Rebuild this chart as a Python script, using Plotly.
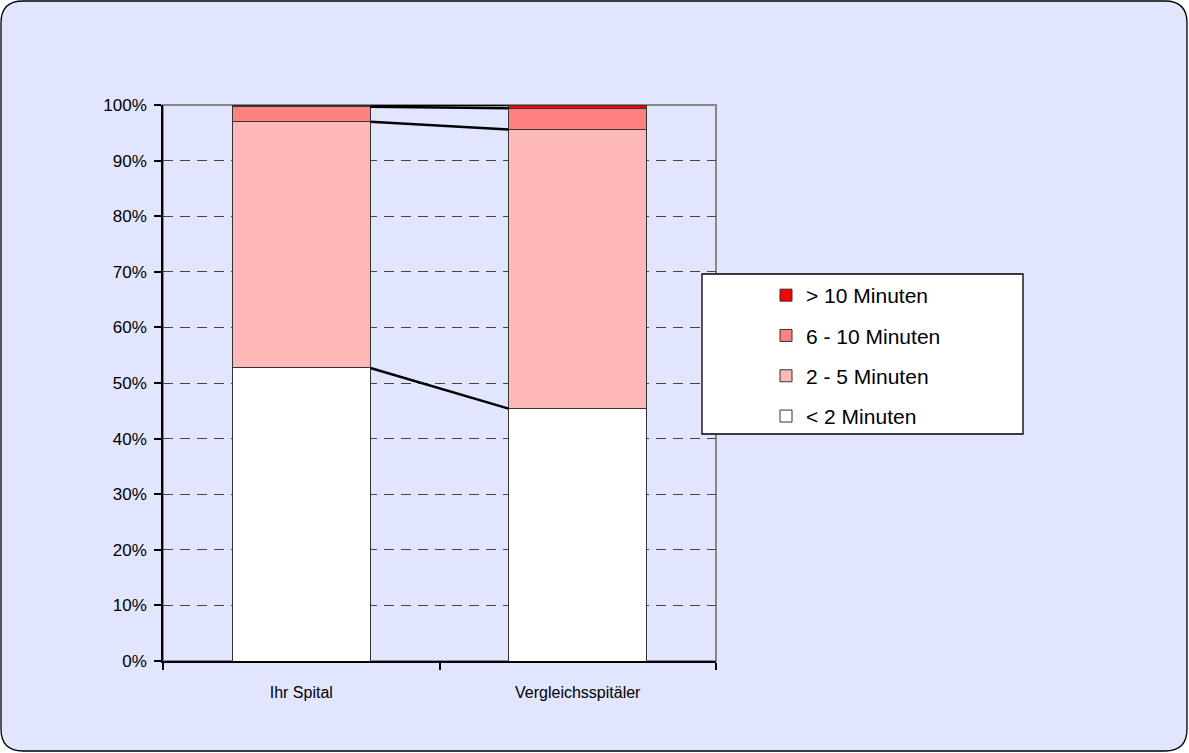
import plotly.graph_objects as go

categories = ["Ihr Spital", "Vergleichsspitäler"]
series_names = ["< 2 Minuten", "2 - 5 Minuten", "6 - 10 Minuten", "> 10 Minuten"]
lt2 = [52.7, 45.4]
m2_5 = [44.3, 50.2]
m6_10 = [2.7, 3.8]
gt10 = [0.3, 0.6]
colors = ["#FFFFFF", "#FFB8B8", "#FF8080", "#FF0000"]
y_ticks = [0, 10, 20, 30, 40, 50, 60, 70, 80, 90, 100]

W, H = 1189, 753
L, R, T, B = 163, 716, 105, 661
BG = "#E1E6FE"

def px2x(px):
    return (px - L) / (R - L)

def px2y(py):
    return (B - py) / (B - T)

series = [lt2, m2_5, m6_10, gt10]
xpos = list(range(len(categories)))
bar_w = 0.5

fig = go.Figure()
n = len(series)
for k, (name, vals, col) in enumerate(zip(series_names, series, colors)):
    fig.add_trace(go.Bar(
        x=xpos, y=[v / 100 for v in vals], name=name, width=bar_w,
        marker=dict(color=col, line=dict(color="#333333", width=1)),
        legendgroup=name, legendrank=n - k,
    ))

# connector lines between tops of each segment
cum = [0.0] * len(categories)
for vals in series:
    cum = [c + v for c, v in zip(cum, vals)]
    for i in range(len(categories) - 1):
        fig.add_trace(go.Scatter(
            x=[xpos[i] + bar_w / 2, xpos[i + 1] - bar_w / 2],
            y=[min(cum[i], 100) / 100, min(cum[i + 1], 100) / 100],
            mode="lines", line=dict(color="black", width=2.5),
            showlegend=False, hoverinfo="skip",
        ))

# outer rounded frame
r = 22
x0, y0, x1, y1 = 1, 1, W - 2, H - 2
def P(x, y):
    return f"{px2x(x):.5f},{px2y(y):.5f}"
path = (f"M {P(x0 + r, y0)} L {P(x1 - r, y0)} Q {P(x1, y0)} {P(x1, y0 + r)} "
        f"L {P(x1, y1 - r)} Q {P(x1, y1)} {P(x1 - r, y1)} "
        f"L {P(x0 + r, y1)} Q {P(x0, y1)} {P(x0, y1 - r)} "
        f"L {P(x0, y0 + r)} Q {P(x0, y0)} {P(x0 + r, y0)} Z")

shapes = [
    dict(type="path", path=path, xref="paper", yref="paper", fillcolor=BG,
         line=dict(color="black", width=1.3), layer="below"),
    dict(type="rect", xref="paper", yref="paper", x0=0, y0=0, x1=1, y1=1,
         line=dict(color="#888888", width=2), fillcolor="rgba(0,0,0,0)", layer="below"),
    dict(type="rect", xref="paper", yref="paper", x0=px2x(702), y0=px2y(434),
         x1=px2x(1023), y1=px2y(274), line=dict(color="black", width=1.3),
         fillcolor="white", layer="above"),
]

fig.update_layout(
    width=W, height=H,
    margin=dict(l=L, r=W - R, t=T, b=H - B, pad=0),
    paper_bgcolor="white", plot_bgcolor="rgba(0,0,0,0)",
    barmode="stack", bargap=0.5,
    font=dict(family="Liberation Sans, Arial, sans-serif", color="black", size=16),
    shapes=shapes,
    showlegend=True,
    legend=dict(
        x=px2x(766), y=px2y(275), xanchor="left", yanchor="top",
        bgcolor="rgba(0,0,0,0)", borderwidth=0,
        font=dict(size=21), traceorder="grouped", tracegroupgap=10,
    ),
    xaxis=dict(
        range=[-0.5, 1.5], tickmode="array", tickvals=xpos, ticktext=categories,
        ticks="", showgrid=False, zeroline=False,
        showline=True, linecolor="black", linewidth=1.5,
        tickfont=dict(size=16), ticklabelstandoff=16,
        minor=dict(tickmode="array", tickvals=[-0.5, 0.5, 1.5], ticks="outside",
                   ticklen=7, tickcolor="black", tickwidth=1.5, showgrid=False),
    ),
    yaxis=dict(
        range=[0, 1], tickmode="array", tickvals=[t / 100 for t in y_ticks],
        ticktext=[f"{t}%" for t in y_ticks],
        ticks="outside", ticklen=7, tickcolor="black", tickwidth=1.5,
        showgrid=True, gridcolor="#444444", griddash="10px,7px", gridwidth=1,
        zeroline=False, showline=True, linecolor="black", linewidth=1.5,
        tickfont=dict(size=17), ticklabelstandoff=4,
    ),
)

fig.write_html("out.html", config={"displayModeBar": False},
               post_script="document.body.style.margin='0';document.body.style.overflow='hidden';")
